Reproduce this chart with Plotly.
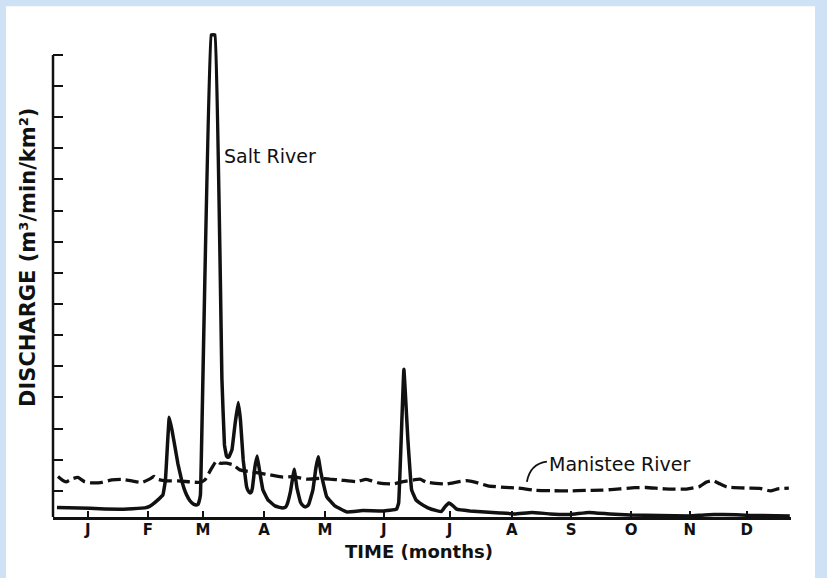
import plotly.graph_objects as go

# Month axis: x in months from 1 Jan; y in discharge tick units
month_ticks = [0.50, 1.50, 2.42, 3.44, 4.46, 5.44, 6.54, 7.58, 8.57, 9.57, 10.55, 11.50]
month_labels = ["J", "F", "M", "A", "M", "J", "J", "A", "S", "O", "N", "D"]
discharge_ticks = list(range(1, 16))

salt_t = [-0.017, 0.534, 1.035, 1.452, 1.530, 1.569, 1.669, 1.753, 1.795, 1.828, 1.858,
          1.903, 1.953, 2.003, 2.064, 2.105, 2.148, 2.200, 2.259, 2.314, 2.340, 2.354, 2.379, 2.559,
          2.621, 2.738, 2.780, 2.813, 2.835, 2.855, 2.905, 2.955, 3.010, 3.047, 3.093,
          3.150, 3.180, 3.205, 3.228, 3.247, 3.289, 3.327, 3.364, 3.422, 3.506, 3.623, 3.700, 3.756,
          3.800, 3.823, 3.881, 3.945, 3.990, 4.048, 4.090, 4.124, 4.160, 4.190, 4.257, 4.307, 4.346,
          4.391, 4.486, 4.623, 4.818, 5.092, 5.426, 5.654, 5.689, 5.776, 5.843,
          5.905, 5.977, 6.043, 6.177, 6.322, 6.406, 6.461, 6.528, 6.578, 6.656,
          6.878, 7.379, 7.629, 7.913, 8.214, 8.548, 8.865, 9.215, 9.549, 10.05,
          10.551, 10.801, 11.102, 11.553, 12.220]
salt_q = [0.462, 0.437, 0.405, 0.453, 0.500, 0.549, 0.710, 0.870, 1.352, 2.476, 3.365,
          2.958, 2.421, 1.866, 1.352, 1.080, 0.870, 0.690, 0.581, 0.549, 0.570, 0.645, 0.870, 15.642,
          15.642, 4.563, 2.476, 2.123, 2.080, 2.091, 2.315, 3.118, 3.834, 3.279, 1.994,
          1.127, 0.990, 0.934, 0.960, 1.095, 1.769, 2.123, 1.673, 1.031, 0.710, 0.517, 0.470, 0.453,
          0.480, 0.549, 0.967, 1.696, 1.095, 0.645, 0.530, 0.485, 0.510, 0.581, 1.031, 1.737, 2.091,
          1.577, 0.816, 0.517, 0.324, 0.366, 0.356, 0.411, 0.613, 4.907, 2.636,
          1.031, 0.710, 0.604, 0.453, 0.366, 0.340, 0.485, 0.613, 0.549, 0.411,
          0.356, 0.292, 0.260, 0.308, 0.260, 0.244, 0.308, 0.260, 0.228, 0.212,
          0.196, 0.228, 0.244, 0.212, 0.196]

manistee_t = [0.000, 0.067, 0.134, 0.234, 0.334, 0.434, 0.568, 0.735, 0.902, 1.068,
              1.235, 1.402, 1.536, 1.603, 1.669, 1.803, 2.003, 2.204, 2.371, 2.454,
              2.566, 2.649, 2.705, 2.816, 2.927, 3.038, 3.205, 3.372, 3.539, 3.756,
              3.928, 4.152, 4.374, 4.541, 4.708, 4.987, 5.142, 5.242, 5.376, 5.598,
              5.765, 5.943, 6.043, 6.144, 6.311, 6.489, 6.678, 6.828, 6.978, 7.179,
              7.462, 7.688, 7.963, 8.247, 8.531, 8.815, 9.090, 9.382, 9.633, 9.816,
              10.134, 10.494, 10.718, 10.818, 10.942, 11.052, 11.169, 11.503, 11.720, 11.897,
              12.020, 12.204]
manistee_q = [1.458, 1.352, 1.288, 1.384, 1.432, 1.304, 1.256, 1.272, 1.352, 1.368,
              1.320, 1.272, 1.384, 1.464, 1.368, 1.320, 1.320, 1.288, 1.272, 1.352,
              1.728, 1.962, 1.888, 1.888, 1.834, 1.673, 1.618, 1.567, 1.513, 1.439,
              1.458, 1.374, 1.400, 1.374, 1.352, 1.297, 1.368, 1.320, 1.246, 1.224,
              1.297, 1.352, 1.374, 1.288, 1.240, 1.224, 1.288, 1.326, 1.272, 1.162,
              1.111, 1.089, 1.021, 1.005, 0.999, 1.015, 1.021, 1.063, 1.101, 1.108,
              1.063, 1.057, 1.143, 1.272, 1.326, 1.224, 1.127, 1.089, 1.079, 0.999,
              1.063, 1.089]

INK = "#111111"
FONT = "DejaVu Sans"

fig = go.Figure()

fig.add_trace(go.Scatter(
    x=salt_t, y=salt_q, mode="lines", name="Salt River",
    line=dict(color=INK, width=3.5, shape="spline", smoothing=0.2),
    hoverinfo="skip",
))
fig.add_trace(go.Scatter(
    x=manistee_t, y=manistee_q, mode="lines", name="Manistee River",
    line=dict(color=INK, width=3.3, dash="13px,5px", shape="spline", smoothing=0.5),
    hoverinfo="skip",
))

shapes = [
    # white page on the blue backdrop
    dict(type="rect", xref="paper", yref="paper", x0=-0.0637, x1=1.0325,
         y0=-0.2, y1=1.049, fillcolor="white", line=dict(width=0), layer="below"),
    # vertical axis line, ending at the top tick
    dict(type="line", xref="x domain", yref="y", x0=0, x1=0, y0=0.16, y1=15,
         line=dict(color=INK, width=2.5)),
    # leader from the Manistee label to its curve
    dict(type="path", xref="x", yref="y",
         path="M 7.830,1.288 Q 7.880,1.866 8.164,1.940",
         line=dict(color=INK, width=1.8)),
]

annotations = [
    dict(text="Salt River", x=2.740, y=11.756, xref="x", yref="y",
         xanchor="left", yanchor="middle", showarrow=False,
         font=dict(family=FONT, size=19, color=INK)),
    dict(text="Manistee River", x=8.160, y=1.866, xref="x", yref="y",
         xanchor="left", yanchor="middle", showarrow=False,
         font=dict(family=FONT, size=19, color=INK)),
    dict(text="DISCHARGE (m³/min/km²)", x=-0.0339, y=0.534,
         xref="paper", yref="paper", textangle=-90, showarrow=False,
         xanchor="center", yanchor="middle",
         font=dict(family=FONT, size=21, color=INK, weight="bold")),
    dict(text="TIME (months)", x=0.496, y=-0.070, xref="paper", yref="paper",
         showarrow=False, xanchor="center", yanchor="middle",
         font=dict(family=FONT, size=18, color=INK, weight="bold")),
]

fig.update_layout(
    width=827, height=578,
    margin=dict(l=53, r=36, t=30, b=61),
    paper_bgcolor="#cfe1f4",
    plot_bgcolor="rgba(0,0,0,0)",
    showlegend=False,
    shapes=shapes,
    annotations=annotations,
    xaxis=dict(
        range=[-0.083, 12.24], showgrid=False, zeroline=False,
        showline=True, linecolor=INK, linewidth=2.5,
        ticks="inside", ticklen=6, tickwidth=2, tickcolor=INK,
        tickvals=month_ticks, ticktext=month_labels,
        tickfont=dict(family=FONT, size=15, color=INK, weight="bold"),
        ticklabelstandoff=-3,
    ),
    yaxis=dict(
        range=[0.16, 15.8], showgrid=False, zeroline=False,
        showline=False, ticks="inside", ticklen=10, tickwidth=2, tickcolor=INK,
        tickvals=discharge_ticks, showticklabels=False,
    ),
)

fig.write_html("out.html")
